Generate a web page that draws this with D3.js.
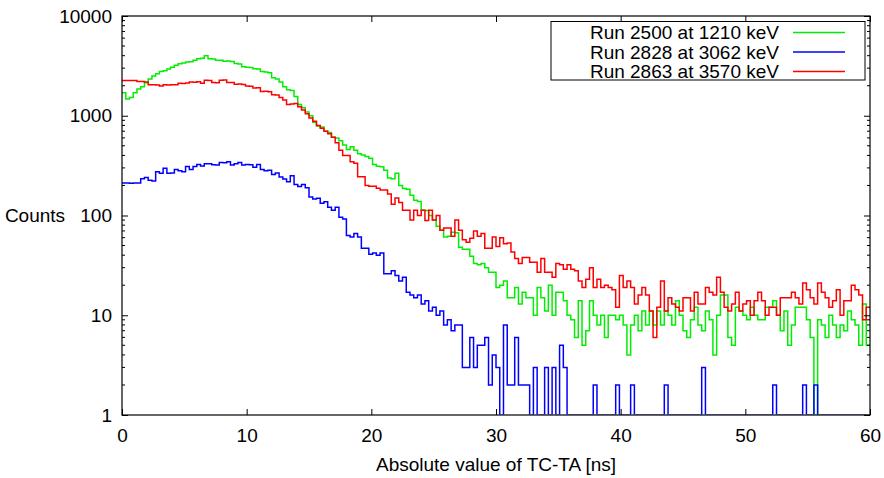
<!DOCTYPE html>
<html>
<head>
<meta charset="utf-8">
<script src="https://cdn.jsdelivr.net/npm/d3@7"></script>
<style>
  body { margin: 0; background: #fff; }
  text { font-family: "Liberation Sans", Arial, sans-serif; font-size: 19px; fill: #000; }
</style>
</head>
<body>
<div id="chart"></div>
<script>
// histogram bins of |TC-TA|, 0.3 ns wide, starting at 0
const binWidth = 0.3;
const xTicks = [0, 10, 20, 30, 40, 50, 60];
const yTicks = [1, 10, 100, 1000, 10000];
const runLabels = ["Run 2500 at 1210 keV", "Run 2828 at 3062 keV", "Run 2863 at 3570 keV"];
const runColors = ["#00ee00", "#0000ff", "#ff0000"];

const run2500 = [
  1700, 1470, 1520, 1700, 1850, 1950, 2140, 2340, 2500, 2630,
  2780, 2820, 2950, 3070, 3200, 3330, 3380, 3450, 3470, 3600,
  3730, 3770, 3990, 3720, 3700, 3600, 3610, 3520, 3540, 3500,
  3340, 3310, 3100, 3070, 3040, 2960, 2950, 2780, 2750, 2700,
  2400, 2340, 2180, 1950, 1820, 1790, 1560, 1300, 1200, 1090,
  1000, 860, 790, 770, 700, 680, 610, 600, 560, 510,
  460, 490, 450, 415, 405, 390, 375, 325, 312, 308,
  285, 238, 234, 265, 200, 187, 183, 160, 142, 138,
  113, 112, 100, 90, 78, 71, 61, 62, 68, 67,
  48, 46, 46, 39, 33, 32, 33, 30, 27, 27,
  19, 20, 22, 15, 15, 19, 13, 17, 15, 15,
  10, 19, 15, 11, 20, 10, 17, 17, 14, 10,
  9, 6, 14, 5, 7, 14, 10, 8, 10, 6,
  10, 10, 9, 10, 8, 4, 8, 10, 7, 11,
  8, 11, 8, 11, 8, 11, 10, 8, 14, 10,
  7, 6, 9, 12, 8, 7, 11, 9, 4, 10,
  16, 16, 6, 5, 12, 11, 10, 9, 12, 10,
  9, 9, 12, 12, 14, 10, 7, 11, 5, 8,
  12, 12, 12, 9, 6, 1, 9, 8, 6, 10,
  8, 6, 8, 7, 11, 9, 8, 5, 13, 5
];

const run2828 = [
  212, 212, 211, 212, 212, 234, 240, 226, 222, 275,
  265, 298, 265, 267, 290, 281, 275, 310, 290, 310,
  325, 314, 330, 330, 322, 320, 340, 338, 345, 320,
  330, 340, 320, 325, 323, 305, 325, 290, 281, 285,
  258, 267, 243, 232, 218, 250, 205, 195, 205, 190,
  153, 146, 149, 133, 137, 121, 113, 121, 96, 92,
  63, 61, 66, 61, 47, 47, 41, 42, 40, 42,
  26, 26, 28, 25, 22, 24, 17, 16, 15, 16,
  13, 14, 11, 12, 10, 11, 8, 9, 7, 8,
  8, 3, 3, 6, 3, 5, 5, 6, 2, 4,
  3, 1, 8, 2, 2, 6, 2, 2, 2, 1,
  3, 1, 1, 3, 1, 3, 1, 5, 3, 1,
  1, 1, 1, 1, 1, 1, 2, 1, 1, 1,
  1, 1, 2, 1, 1, 1, 2, 1, 1, 1,
  1, 1, 1, 1, 1, 2, 1, 1, 1, 1,
  1, 1, 1, 1, 1, 3, 1, 1, 1, 1,
  1, 1, 1, 1, 1, 1, 1, 1, 1, 1,
  1, 1, 1, 1, 2, 1, 1, 1, 1, 1,
  1, 1, 2, 1, 1, 2, 1, 1, 1, 1,
  1, 1, 1, 1, 1, 1, 1, 1, 1, 1
];

const run2863 = [
  2250, 2250, 2250, 2250, 2200, 2200, 2180, 2040, 2050, 2030,
  1990, 2040, 2030, 2050, 2040, 2120, 2110, 2130, 2180, 2170,
  2190, 2120, 2270, 2260, 2150, 2140, 2270, 2280, 2150, 2160,
  2070, 2080, 2060, 1990, 1980, 1900, 1910, 1750, 1760, 1740,
  1620, 1610, 1520, 1440, 1300, 1310, 1330, 1230, 1140, 1050,
  950, 880, 800, 750, 700, 660, 610, 535, 450, 400,
  400, 345, 335, 245, 245, 200, 196, 196, 188, 180,
  180, 164, 130, 150, 135, 113, 113, 90, 113, 100,
  113, 89, 113, 90, 100, 71, 75, 75, 62, 90,
  71, 57, 54, 59, 70, 62, 66, 47, 47, 61,
  49, 60, 52, 53, 43, 37, 33, 38, 38, 34,
  34, 27, 37, 27, 27, 24, 33, 32, 29, 32,
  29, 28, 22, 19, 23, 30, 19, 23, 19, 20,
  19, 18, 12, 25, 19, 22, 19, 13, 16, 19,
  16, 11, 6, 12, 22, 11, 15, 13, 12, 11,
  15, 15, 11, 17, 13, 13, 19, 17, 16, 24,
  17, 12, 11, 13, 17, 11, 13, 14, 10, 14,
  17, 14, 10, 12, 12, 10, 15, 15, 15, 17,
  15, 13, 21, 18, 15, 13, 21, 17, 15, 12,
  14, 18, 10, 14, 14, 20, 18, 16, 9, 12
];

const runs = [run2500, run2828, run2863];

const width = 884, height = 478;
const margin = {top: 16, right: 14, bottom: 63, left: 122};

const svg = d3.select("#chart")
  .append("svg")
    .attr("width", width)
    .attr("height", height);

const x = d3.scaleLinear()
  .domain([0, 60])
  .range([margin.left, width - margin.right]);

const y = d3.scaleLog()
  .domain([1, 10000])
  .range([height - margin.bottom, margin.top]);

// clip just above the bottom frame so runs of 1 count hide behind the axis
svg.append("clipPath")
  .attr("id", "plot-clip")
  .append("rect")
    .attr("x", x(0))
    .attr("y", y(10000))
    .attr("width", x(60) - x(0))
    .attr("height", y(1) - y(10000) - 0.6);

// histogram steps, one point per bin edge
const steps = d3.line()
  .curve(d3.curveStepAfter)
  .x(d => x(d[0]))
  .y(d => y(Math.max(d[1], 1)));

const toEdges = (counts) => {
  const pts = counts.map((c, i) => [i * binWidth, c]);
  pts.push([counts.length * binWidth, counts[counts.length - 1]]);
  return pts;
};

svg.append("g")
  .attr("clip-path", "url(#plot-clip)")
  .selectAll("path")
  .data(runs)
  .enter().append("path")
    .attr("d", d => steps(toEdges(d)))
    .attr("fill", "none")
    .attr("stroke", (d, i) => runColors[i])
    .attr("stroke-width", 1.5);

// minor log ticks 2..9 in each decade
const minorY = [];
yTicks.slice(0, -1).forEach(t => {
  for (let k = 2; k <= 9; k++) minorY.push(t * k);
});

const axisLeft = d3.axisLeft(y).tickValues(yTicks).tickSize(-6).tickFormat(d3.format("d")).tickPadding(10);
const axisRight = d3.axisRight(y).tickValues(yTicks).tickSize(-6).tickFormat("");
const axisBottom = d3.axisBottom(x).tickValues(xTicks).tickSize(-6).tickFormat(d3.format("d")).tickPadding(14);
const axisTop = d3.axisTop(x).tickValues(xTicks).tickSize(-6).tickFormat("");

const gl = svg.append("g").attr("transform", `translate(${x(0)},0)`).call(axisLeft);
const gr = svg.append("g").attr("transform", `translate(${x(60)},0)`).call(axisRight);
const gb = svg.append("g").attr("transform", `translate(0,${y(1)})`).call(axisBottom);
const gt = svg.append("g").attr("transform", `translate(0,${y(10000)})`).call(axisTop);

[gl, gr, gb, gt].forEach(g => {
  g.select(".domain").remove();
  g.selectAll(".tick line").attr("stroke", "#000");
  g.selectAll("text").attr("font-size", 19).attr("font-family", "Liberation Sans, Arial, sans-serif");
});

svg.append("g")
  .selectAll("line")
  .data(minorY)
  .enter().append("line")
    .attr("x1", x(0)).attr("x2", x(0) + 3)
    .attr("y1", d => y(d)).attr("y2", d => y(d))
    .attr("stroke", "#000");

svg.append("g")
  .selectAll("line")
  .data(minorY)
  .enter().append("line")
    .attr("x1", x(60)).attr("x2", x(60) - 3)
    .attr("y1", d => y(d)).attr("y2", d => y(d))
    .attr("stroke", "#000");

// frame
svg.append("rect")
  .attr("x", x(0))
  .attr("y", y(10000))
  .attr("width", x(60) - x(0))
  .attr("height", y(1) - y(10000))
  .attr("fill", "none")
  .attr("stroke", "#000")
  .attr("stroke-width", 1.2);

svg.append("text")
  .attr("x", (x(0) + x(60)) / 2)
  .attr("y", 471)
  .attr("text-anchor", "middle")
  .text("Absolute value of TC-TA [ns]");

svg.append("text")
  .attr("x", 35)
  .attr("y", 222)
  .attr("text-anchor", "middle")
  .text("Counts");

// legend
const legend = svg.append("g");
legend.append("rect")
  .attr("x", 551)
  .attr("y", 21.5)
  .attr("width", 314)
  .attr("height", 58.5)
  .attr("fill", "#fff")
  .attr("stroke", "#000");

const rows = legend.selectAll("g.row")
  .data(runLabels)
  .enter().append("g")
    .attr("class", "row")
    .attr("transform", (d, i) => `translate(0,${32.5 + i * 19.5})`);

rows.append("text")
  .attr("x", 779)
  .attr("dy", "0.35em")
  .attr("text-anchor", "end")
  .text(d => d);

rows.append("line")
  .attr("x1", 793).attr("x2", 845)
  .attr("stroke", (d, i) => runColors[i])
  .attr("stroke-width", 1.5);
</script>
</body>
</html>
